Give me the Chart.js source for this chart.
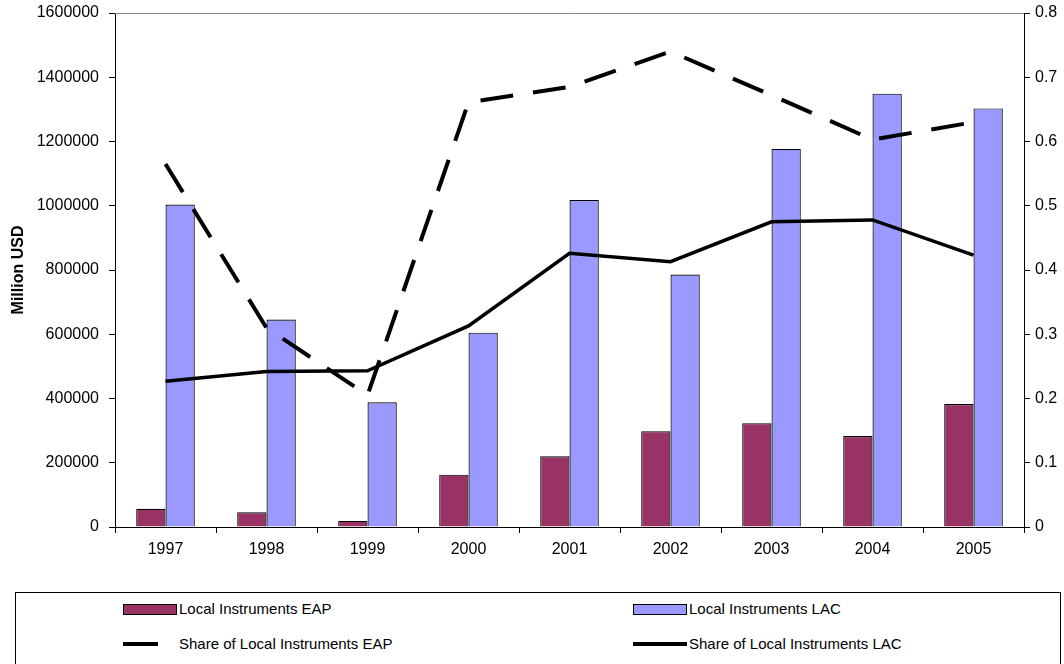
<!DOCTYPE html>
<html lang="en">
<head>
    <meta charset="UTF-8">
    <title>Local Instruments EAP vs LAC</title>
    <script src="https://cdn.jsdelivr.net/npm/chart.js@4.4.6/dist/chart.umd.min.js"></script>
    <style>
        body { margin: 0; background: #fff; font-family: "Liberation Sans", Arial, sans-serif; }
        #wrap { position: relative; width: 1064px; height: 664px; overflow: hidden; }
        #myChart { position: absolute; left: 0; top: 0; }
        #legendBox {
            position: absolute; left: 15px; top: 592px; width: 1046px; height: 90px;
            border: 1px solid #000; box-sizing: border-box;
        }
        .item { position: absolute; font-size: 15px; color: #000; line-height: 18px; white-space: nowrap; }
        .sym { position: absolute; box-sizing: border-box; }
    </style>
</head>
<body>
<div id="wrap">
    <canvas id="myChart" width="1064" height="590"></canvas>
    <div id="legendBox"></div>
    <div id="legendItems"></div>
</div>
<script>
    // values
    const years = ['1997', '1998', '1999', '2000', '2001', '2002', '2003', '2004', '2005'];
    const localEAP = [57000, 46000, 19000, 163000, 220000, 298000, 323000, 283000, 383000];
    const localLAC = [1004000, 646000, 388000, 605000, 1018000, 786000, 1177000, 1349000, 1303000];
    const shareEAP = [0.565, 0.310, 0.205, 0.661, 0.685, 0.740, 0.672, 0.603, 0.630];
    const shareLAC = [0.227, 0.242, 0.243, 0.313, 0.426, 0.413, 0.475, 0.478, 0.423];

    const eapColor = '#993366';
    const lacColor = '#9999FF';

    Chart.defaults.font.family = '"Liberation Sans", Arial, sans-serif';
    Chart.defaults.font.size = 16;
    Chart.defaults.color = '#000';

    // thin grey frame line along the top of the plot
    const topLine = {
        id: 'topLine',
        afterDraw(chart) {
            const a = chart.chartArea;
            const ctx = chart.ctx;
            ctx.save();
            ctx.strokeStyle = '#888';
            ctx.lineWidth = 1;
            ctx.beginPath();
            ctx.moveTo(a.left, Math.round(a.top) + 0.5);
            ctx.lineTo(a.right, Math.round(a.top) + 0.5);
            ctx.stroke();
            ctx.restore();
        }
    };

    // fixed axis boxes so the plot sits where the reference has it
    const fitY = w => s => { s.width = w; s.paddingTop = 0; s.paddingBottom = 0; };

    const ctx = document.getElementById('myChart').getContext('2d');
    new Chart(ctx, {
        type: 'bar',
        data: {
            labels: years,
            datasets: [
                {
                    label: 'Local Instruments EAP',
                    data: localEAP,
                    backgroundColor: eapColor,
                    borderColor: '#000',
                    borderWidth: 1.2,
                    yAxisID: 'y',
                    order: 1
                },
                {
                    label: 'Local Instruments LAC',
                    data: localLAC,
                    backgroundColor: lacColor,
                    borderColor: '#000',
                    borderWidth: 1.2,
                    yAxisID: 'y',
                    order: 1
                },
                {
                    type: 'line',
                    label: 'Share of Local Instruments EAP',
                    data: shareEAP,
                    borderColor: '#000',
                    borderWidth: 4,
                    borderDash: [33, 20],
                    borderCapStyle: 'butt',
                    pointRadius: 0,
                    tension: 0,
                    fill: false,
                    yAxisID: 'y1',
                    order: 0
                },
                {
                    type: 'line',
                    label: 'Share of Local Instruments LAC',
                    data: shareLAC,
                    borderColor: '#000',
                    borderWidth: 3.5,
                    pointRadius: 0,
                    tension: 0,
                    fill: false,
                    yAxisID: 'y1',
                    order: 0
                }
            ]
        },
        options: {
            responsive: false,
            animation: false,
            devicePixelRatio: 1,
            layout: { padding: { top: 13, left: 0, right: 0, bottom: 0 } },
            plugins: {
                legend: { display: false },
                tooltip: { enabled: false }
            },
            datasets: {
                bar: { barPercentage: 1, categoryPercentage: 0.58 }
            },
            scales: {
                x: {
                    grid: { drawOnChartArea: false, offset: true, tickLength: 6, color: '#000' },
                    border: { color: '#000', width: 1 },
                    ticks: { padding: 7 },
                    afterFit: s => { s.height = 63; }
                },
                y: {
                    position: 'left',
                    min: 0,
                    max: 1600000,
                    ticks: { stepSize: 200000, padding: 10, callback: v => String(v) },
                    grid: { drawOnChartArea: false, tickLength: 6, color: '#000' },
                    border: { color: '#000', width: 1 },
                    title: { display: true, text: 'Million USD', font: { size: 16, weight: 'bold' }, padding: { top: 9, bottom: 0 } },
                    afterFit: fitY(115)
                },
                y1: {
                    position: 'right',
                    min: 0,
                    max: 0.8,
                    ticks: { stepSize: 0.1, padding: 5, callback: v => String(Number(v.toFixed(1))) },
                    grid: { drawOnChartArea: false, tickLength: 6, color: '#000' },
                    border: { color: '#000', width: 1 },
                    afterFit: fitY(40)
                }
            }
        },
        plugins: [topLine]
    });

    // legend laid out as two rows, two columns, like the reference
    const legendItems = [
        { text: 'Local Instruments EAP', kind: 'box', color: eapColor, x: 123, y: 609, w: 54 },
        { text: 'Local Instruments LAC', kind: 'box', color: lacColor, x: 633, y: 609, w: 54 },
        { text: 'Share of Local Instruments EAP', kind: 'dash', x: 123, y: 644, w: 35, tx: 179 },
        { text: 'Share of Local Instruments LAC', kind: 'line', x: 633, y: 644, w: 54 }
    ];
    const holder = document.getElementById('legendItems');
    legendItems.forEach(it => {
        const sym = document.createElement('div');
        sym.className = 'sym';
        sym.style.left = it.x + 'px';
        sym.style.width = it.w + 'px';
        if (it.kind === 'box') {
            sym.style.top = (it.y - 5) + 'px';
            sym.style.height = '11px';
            sym.style.background = it.color;
            sym.style.border = '1.5px solid #000';
        } else {
            sym.style.top = (it.y - 2) + 'px';
            sym.style.height = '4px';
            sym.style.background = '#000';
        }
        holder.appendChild(sym);
        const label = document.createElement('div');
        label.className = 'item';
        label.textContent = it.text;
        label.style.left = (it.tx || (it.x + it.w + 2)) + 'px';
        label.style.top = (it.y - 9) + 'px';
        holder.appendChild(label);
    });
</script>
</body>
</html>
